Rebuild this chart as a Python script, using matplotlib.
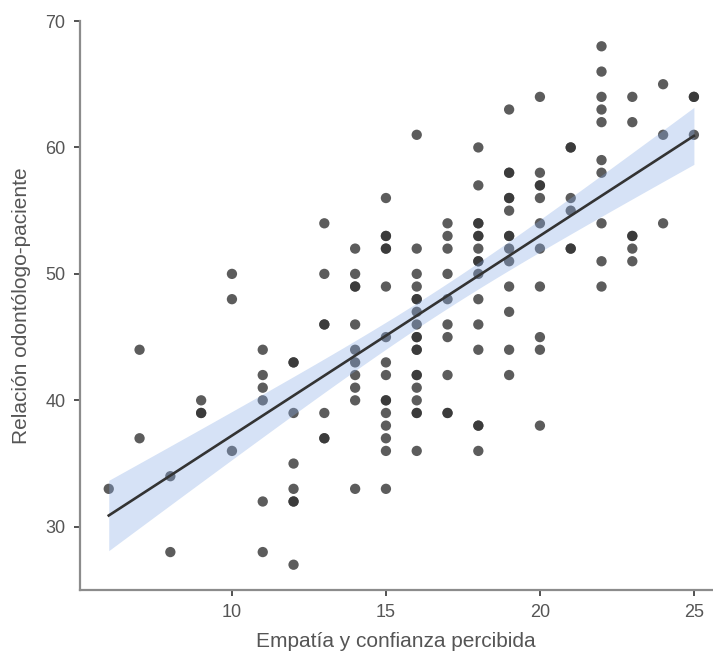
import numpy as np
import matplotlib
matplotlib.use("Agg")
import matplotlib.pyplot as plt

plt.rcParams['font.family'] = ['Liberation Sans', 'DejaVu Sans']

# Scatter data (darker dots = repeated values)
empatia = (
    [6] + [7] * 2 + [8] * 2 + [9] * 3 + [10] * 3 + [11] * 6 + [12] * 8
    + [13] * 7 + [14] * 11 + [15] * 16 + [16] * 19 + [17] * 10 + [18] * 16
    + [19] * 14 + [20] * 11 + [21] * 6 + [22] * 10 + [23] * 6 + [24] * 3 + [25] * 3
)
relacion = [
    33,
    44, 37,
    34, 28,
    40, 39, 39,
    50, 48, 36,
    44, 42, 41, 40, 32, 28,
    43, 43, 39, 35, 33, 32, 32, 27,
    54, 50, 46, 46, 39, 37, 37,
    52, 50, 49, 49, 46, 44, 43, 42, 41, 40, 33,
    56, 53, 53, 52, 52, 49, 45, 43, 42, 40, 40, 39, 38, 37, 36, 33,
    61, 52, 50, 49, 48, 48, 47, 46, 45, 45, 44, 44, 42, 42, 41, 40, 39, 39, 36,
    54, 53, 52, 50, 48, 46, 45, 42, 39, 39,
    60, 57, 54, 54, 53, 53, 52, 51, 51, 50, 48, 46, 44, 38, 38, 36,
    63, 58, 58, 56, 56, 55, 53, 53, 52, 51, 49, 47, 44, 42,
    64, 58, 57, 57, 56, 54, 52, 49, 45, 44, 38,
    60, 60, 56, 55, 52, 52,
    68, 66, 64, 63, 62, 59, 58, 54, 51, 49,
    64, 62, 53, 53, 52, 51,
    65, 61, 54,
    64, 64, 61,
]
xticks = [10, 15, 20, 25]
yticks = [30, 40, 50, 60, 70]

x = np.array(empatia, dtype=float)
y = np.array(relacion, dtype=float)

# linear fit with 95% confidence band
n = len(x)
b1, b0 = np.polyfit(x, y, 1)
resid = y - (b0 + b1 * x)
s = np.sqrt(np.sum(resid ** 2) / (n - 2))
xs = np.linspace(x.min(), x.max(), 100)
ys = b0 + b1 * xs
se = s * np.sqrt(1 / n + (xs - x.mean()) ** 2 / np.sum((x - x.mean()) ** 2))
t = 1.98
lo, hi = ys - t * se, ys + t * se

fig = plt.figure(figsize=(7.13, 6.56), dpi=100)
ax = fig.add_axes([79.5 / 713, 1 - 590 / 656, 1 - 79.5 / 713, (590 - 21) / 656])

ax.scatter(x, y, s=55, color='#333333', alpha=0.8, edgecolors='none', zorder=2)
ax.fill_between(xs, lo, hi, color=(135 / 255, 170 / 255, 229 / 255), alpha=0.34,
                linewidth=0, zorder=3)
ax.plot(xs, ys, color='#333333', linewidth=1.9, zorder=4)

ax.set_xlim(5.05, 25.62)
ax.set_ylim(25, 70)
ax.set_xticks(xticks)
ax.set_yticks(yticks)

for side in ['top', 'right']:
    ax.spines[side].set_visible(False)
for side in ['left', 'bottom']:
    ax.spines[side].set_color('#8c8c8c')
    ax.spines[side].set_linewidth(1.6)
ax.tick_params(axis='both', colors='#333333', labelcolor='#555555',
               labelsize=13, length=4, width=1.2)
ax.tick_params(axis='y', pad=6)
ax.tick_params(axis='x', pad=6)

ax.set_xlabel('Empatía y confianza percibida', fontsize=15, color='#555555', labelpad=8)
ax.set_ylabel('Relación odontólogo-paciente', fontsize=15, color='#555555', labelpad=10)

fig.savefig('out.png', dpi=100)
